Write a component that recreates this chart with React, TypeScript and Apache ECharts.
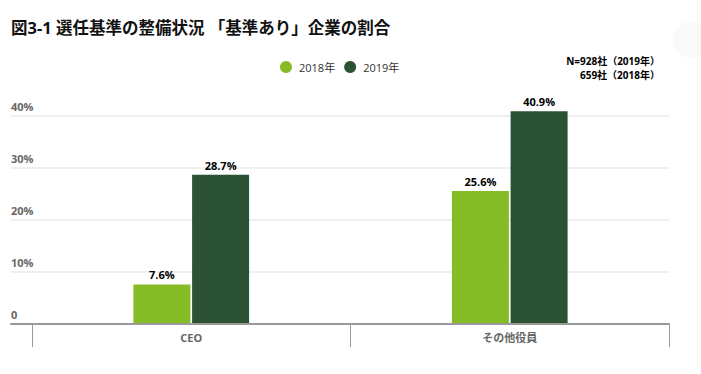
import React, { useEffect, useRef } from "react";
import * as echarts from "echarts";

const titleText = "図3-1 選任基準の整備状況 「基準あり」企業の割合";
const noteLines = ["N=928社（2019年）", "659社（2018年）"];
const categories = ["CEO", "その他役員"];
const seriesNames = ["2018年", "2019年"];
const values2018 = [7.6, 25.6];
const values2019 = [28.7, 40.9];
const colors = ["#86bc25", "#2b5234"];
const yMin = 0;
const yMax = 40;
const yInterval = 10;

const FONT = "'Open Sans', 'Noto Sans CJK JP', sans-serif";

export default function App() {
  const ref = useRef<HTMLDivElement>(null);
  useEffect(() => {
    if (!ref.current) return;
    const chart = echarts.init(ref.current, undefined, { renderer: "svg" });
    const labelStyle = {
      show: true,
      position: "top" as const,
      distance: 4,
      formatter: "{c}%",
      color: "#000",
      fontWeight: "bold" as const,
      fontSize: 11,
      fontFamily: FONT,
    };
    chart.setOption({
      animation: false,
      backgroundColor: "#fff",
      textStyle: { fontFamily: FONT },
      title: {
        text: titleText,
        left: 6,
        top: 14,
        textStyle: { fontSize: 16.5, fontWeight: "bold", color: "#111", fontFamily: FONT },
      },
      legend: {
        left: 275,
        top: 56,
        icon: "circle",
        itemWidth: 12,
        itemHeight: 12,
        itemGap: 9,
        data: seriesNames,
        textStyle: { color: "#333", fontSize: 11, fontFamily: FONT, padding: [0, 0, 0, 2] },
      },
      graphic: [
        {
          type: "circle",
          shape: { cx: 691, cy: 40, r: 18 },
          style: { fill: "#f9f9f9" },
          silent: true,
        },
        {
          type: "text",
          x: 660,
          y: 56,
          style: {
            text: noteLines[0],
            align: "right",
            font: `bold 10px ${FONT}`,
            fill: "#000",
          },
        },
        {
          type: "text",
          x: 660,
          y: 70,
          style: {
            text: noteLines[1],
            align: "right",
            font: `bold 10px ${FONT}`,
            fill: "#000",
          },
        },
      ],
      grid: [
        { left: 11, right: 32, top: 116, bottom: 50 },
        { left: 32, right: 32, top: 116, bottom: 50 },
      ],
      xAxis: [
        {
          gridIndex: 0,
          type: "value",
          min: 0,
          max: 1,
          axisLine: { show: true, lineStyle: { color: "#999", width: 2 } },
          axisTick: { show: false },
          axisLabel: { show: false },
          splitLine: { show: false },
          z: 5,
        },
        {
          gridIndex: 1,
          type: "category",
          data: categories,
          axisLine: { show: false },
          axisTick: { show: true, length: 23, lineStyle: { color: "#999", width: 1 } },
          axisLabel: { margin: 8, color: "#666", fontSize: 11, fontWeight: "bold", fontFamily: FONT },
        },
      ],
      yAxis: [
        {
          gridIndex: 0,
          type: "value",
          min: yMin,
          max: yMax,
          interval: yInterval,
          axisLine: { show: false },
          axisTick: { show: false },
          splitLine: { lineStyle: { color: "#efefef", width: 2 } },
          axisLabel: {
            inside: true,
            margin: 0,
            verticalAlign: "bottom",
            padding: [0, 0, 4, 0],
            color: "#666",
            fontSize: 11,
            fontWeight: "bold",
            fontFamily: FONT,
            formatter: (v: number) => (v === 0 ? "0" : `${v}%`),
          },
        },
        {
          gridIndex: 1,
          type: "value",
          min: yMin,
          max: yMax,
          interval: yInterval,
          show: false,
          splitLine: { show: false },
        },
      ],
      series: [
        {
          name: seriesNames[0],
          type: "bar",
          xAxisIndex: 1,
          yAxisIndex: 1,
          data: values2018,
          barWidth: 57,
          barGap: "3%",
          clip: false,
          itemStyle: { color: colors[0] },
          label: labelStyle,
        },
        {
          name: seriesNames[1],
          type: "bar",
          xAxisIndex: 1,
          yAxisIndex: 1,
          data: values2019,
          barWidth: 57,
          barGap: "3%",
          clip: false,
          itemStyle: { color: colors[1] },
          label: labelStyle,
        },
      ],
    });
    return () => chart.dispose();
  }, []);
  return (
    <div
      ref={ref}
      style={{ position: "fixed", left: 0, top: 0, width: 701, height: 374 }}
    />
  );
}
